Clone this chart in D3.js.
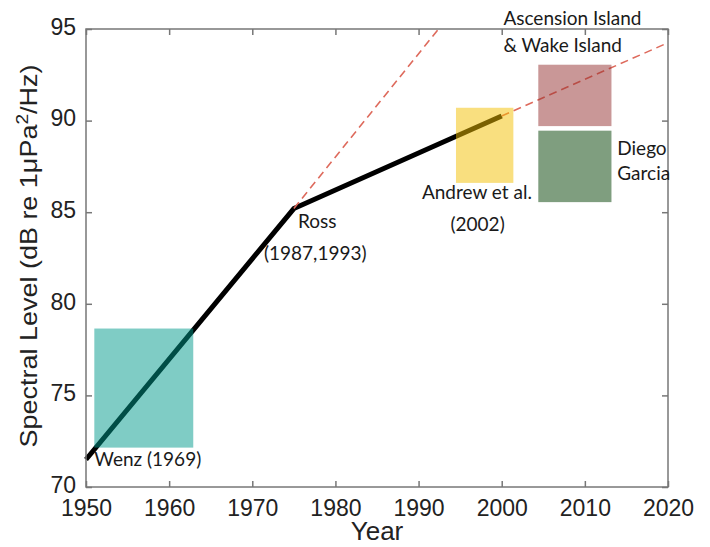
<!DOCTYPE html>
<html>
<head>
<meta charset="utf-8">
<script src="https://cdn.jsdelivr.net/npm/d3@7/dist/d3.min.js"></script>
<style>
  html, body { margin: 0; padding: 0; background: #fff; }
  svg { display: block; }
  .tick-label { font-family: "Liberation Sans", Arial, sans-serif; fill: #222; }
  .note { font-family: Lato, "Open Sans", sans-serif; fill: #1a1a1a; }
</style>
</head>
<body>
<svg id="chart" width="710" height="547"></svg>
<script>
// Noise-level trend, piecewise linear (years / spectral level in dB re 1 µPa²/Hz)
const trendYears = [1950, 1975, 2000];
const trendLevels = [71.5, 85.2, 90.25];

// Dashed extrapolations of each segment's slope
const extrapSteepYears = [1975, 1992.4];
const extrapSteepLevels = [85.2, 95];
const extrapShallowYears = [2000, 2020];
const extrapShallowLevels = [90.25, 94.25];

// Measurement campaigns shown as ranges: years (from, to) and levels (low, high)
const studyNames = ["Wenz", "Andrew", "Ascension", "Diego"];
const studyYearFrom = [1951.0, 1994.5, 2004.4, 2004.4];
const studyYearTo = [1962.9, 2001.4, 2013.2, 2013.2];
const studyLevelLow = [72.15, 86.6, 89.7, 85.55];
const studyLevelHigh = [78.65, 90.7, 93.05, 89.45];
const studyColors = ["#00998b", "#f3c000", "#933030", "#003d00"];

// Axis ticks
const xTicks = [1950, 1960, 1970, 1980, 1990, 2000, 2010, 2020];
const yTicks = [70, 75, 80, 85, 90, 95];

const svg = d3.select("#chart");
const margin = { left: 86, right: 42, top: 29, bottom: 60 };
const W = 710, H = 547;
const x = d3.scaleLinear().domain([1950, 2020]).range([margin.left, W - margin.right]);
const y = d3.scaleLinear().domain([70, 95]).range([H - margin.bottom, margin.top]);

const plot = svg.append("g");

// Clip the dashed extrapolations to the axes box
svg.append("clipPath").attr("id", "plotClip")
  .append("rect")
  .attr("x", x(1950)).attr("y", y(95))
  .attr("width", x(2020) - x(1950)).attr("height", y(70) - y(95));

const line = d3.line().x(d => x(d[0])).y(d => y(d[1]));

// Main trend line (drawn below the translucent campaign boxes)
plot.append("path")
  .datum(d3.zip(trendYears, trendLevels))
  .attr("d", line)
  .attr("fill", "none")
  .attr("stroke", "#000")
  .attr("stroke-width", 5)
  .attr("stroke-linejoin", "miter");

// Dashed extrapolations
[[extrapSteepYears, extrapSteepLevels], [extrapShallowYears, extrapShallowLevels]].forEach(([xs, ys]) => {
  plot.append("path")
    .datum(d3.zip(xs, ys))
    .attr("d", line)
    .attr("clip-path", "url(#plotClip)")
    .attr("fill", "none")
    .attr("stroke", "#de6a5c")
    .attr("stroke-width", 1.6)
    .attr("stroke-dasharray", "8,5");
});

// Campaign boxes
plot.selectAll("rect.study")
  .data(studyNames.map((n, i) => i))
  .join("rect")
  .attr("class", "study")
  .attr("x", i => x(studyYearFrom[i]))
  .attr("y", i => y(studyLevelHigh[i]))
  .attr("width", i => x(studyYearTo[i]) - x(studyYearFrom[i]))
  .attr("height", i => y(studyLevelLow[i]) - y(studyLevelHigh[i]))
  .attr("fill", i => studyColors[i])
  .attr("fill-opacity", 0.5);

// Axes box with inward ticks on all four sides
const axisColor = "#777";
const tickLen = 6;
svg.append("rect")
  .attr("x", x(1950)).attr("y", y(95))
  .attr("width", x(2020) - x(1950)).attr("height", y(70) - y(95))
  .attr("fill", "none").attr("stroke", axisColor).attr("stroke-width", 1.5);

const axisBottom = d3.axisBottom(x).tickValues(xTicks).tickSize(-tickLen).tickPadding(13).tickFormat(d3.format("d"));
const gx = svg.append("g").attr("transform", `translate(0,${y(70)})`).call(axisBottom);
gx.select(".domain").remove();
gx.selectAll(".tick line").attr("stroke", axisColor).attr("stroke-width", 1.5);
gx.selectAll(".tick text").attr("class", "tick-label").attr("font-size", 23).attr("fill", "#222");

const axisTop = d3.axisTop(x).tickValues(xTicks).tickSize(-tickLen).tickFormat("");
const gxt = svg.append("g").attr("transform", `translate(0,${y(95)})`).call(axisTop);
gxt.select(".domain").remove();
gxt.selectAll(".tick line").attr("stroke", axisColor).attr("stroke-width", 1.5);

const axisLeft = d3.axisLeft(y).tickValues(yTicks).tickSize(-tickLen).tickPadding(10);
const gy = svg.append("g").attr("transform", `translate(${x(1950)},0)`).call(axisLeft);
gy.select(".domain").remove();
gy.selectAll(".tick line").attr("stroke", axisColor).attr("stroke-width", 1.5);
gy.selectAll(".tick text").attr("class", "tick-label").attr("font-size", 23).attr("fill", "#222")
  .attr("y", -2);

const axisRight = d3.axisRight(y).tickValues(yTicks).tickSize(-tickLen).tickFormat("");
const gyr = svg.append("g").attr("transform", `translate(${x(2020)},0)`).call(axisRight);
gyr.select(".domain").remove();
gyr.selectAll(".tick line").attr("stroke", axisColor).attr("stroke-width", 1.5);

// Axis titles
svg.append("text")
  .attr("class", "tick-label")
  .attr("x", (x(1950) + x(2020)) / 2).attr("y", 540)
  .attr("text-anchor", "middle").attr("font-size", 26)
  .text("Year");

const yTitle = svg.append("text")
  .attr("class", "tick-label")
  .attr("transform", `translate(37,256) rotate(-90)`)
  .attr("text-anchor", "middle").attr("font-size", 24)
  .attr("textLength", 383).attr("lengthAdjust", "spacingAndGlyphs");
yTitle.append("tspan").text("Spectral Level (dB re 1\u03BCPa");
yTitle.append("tspan").attr("font-size", 17).attr("dy", -9).text("2");
yTitle.append("tspan").attr("dy", 9).text("/Hz)");

// Annotations
const notes = [
  { t: "Wenz (1969)", yr: 1951.0, lv: 71.15, anchor: "start" },
  { t: "Ross", yr: 1975.5, lv: 84.15, anchor: "start" },
  { t: "(1987,1993)", yr: 1971.4, lv: 82.4, anchor: "start" },
  { t: "Andrew et al.", yr: 1990.4, lv: 85.7, anchor: "start" },
  { t: "(2002)", yr: 1997.1, lv: 84.0, anchor: "middle" },
  { t: "Ascension Island", yr: 2000.2, lv: 95.2, anchor: "start" },
  { t: "& Wake Island", yr: 2000.2, lv: 93.75, anchor: "start" },
  { t: "Diego", yr: 2013.9, lv: 88.1, anchor: "start" },
  { t: "Garcia", yr: 2013.9, lv: 86.75, anchor: "start" }
];
svg.selectAll("text.note")
  .data(notes)
  .join("text")
  .attr("class", "note")
  .attr("x", d => x(d.yr))
  .attr("y", d => y(d.lv))
  .attr("text-anchor", d => d.anchor)
  .attr("font-size", 19)
  .text(d => d.t);
</script>
</body>
</html>
